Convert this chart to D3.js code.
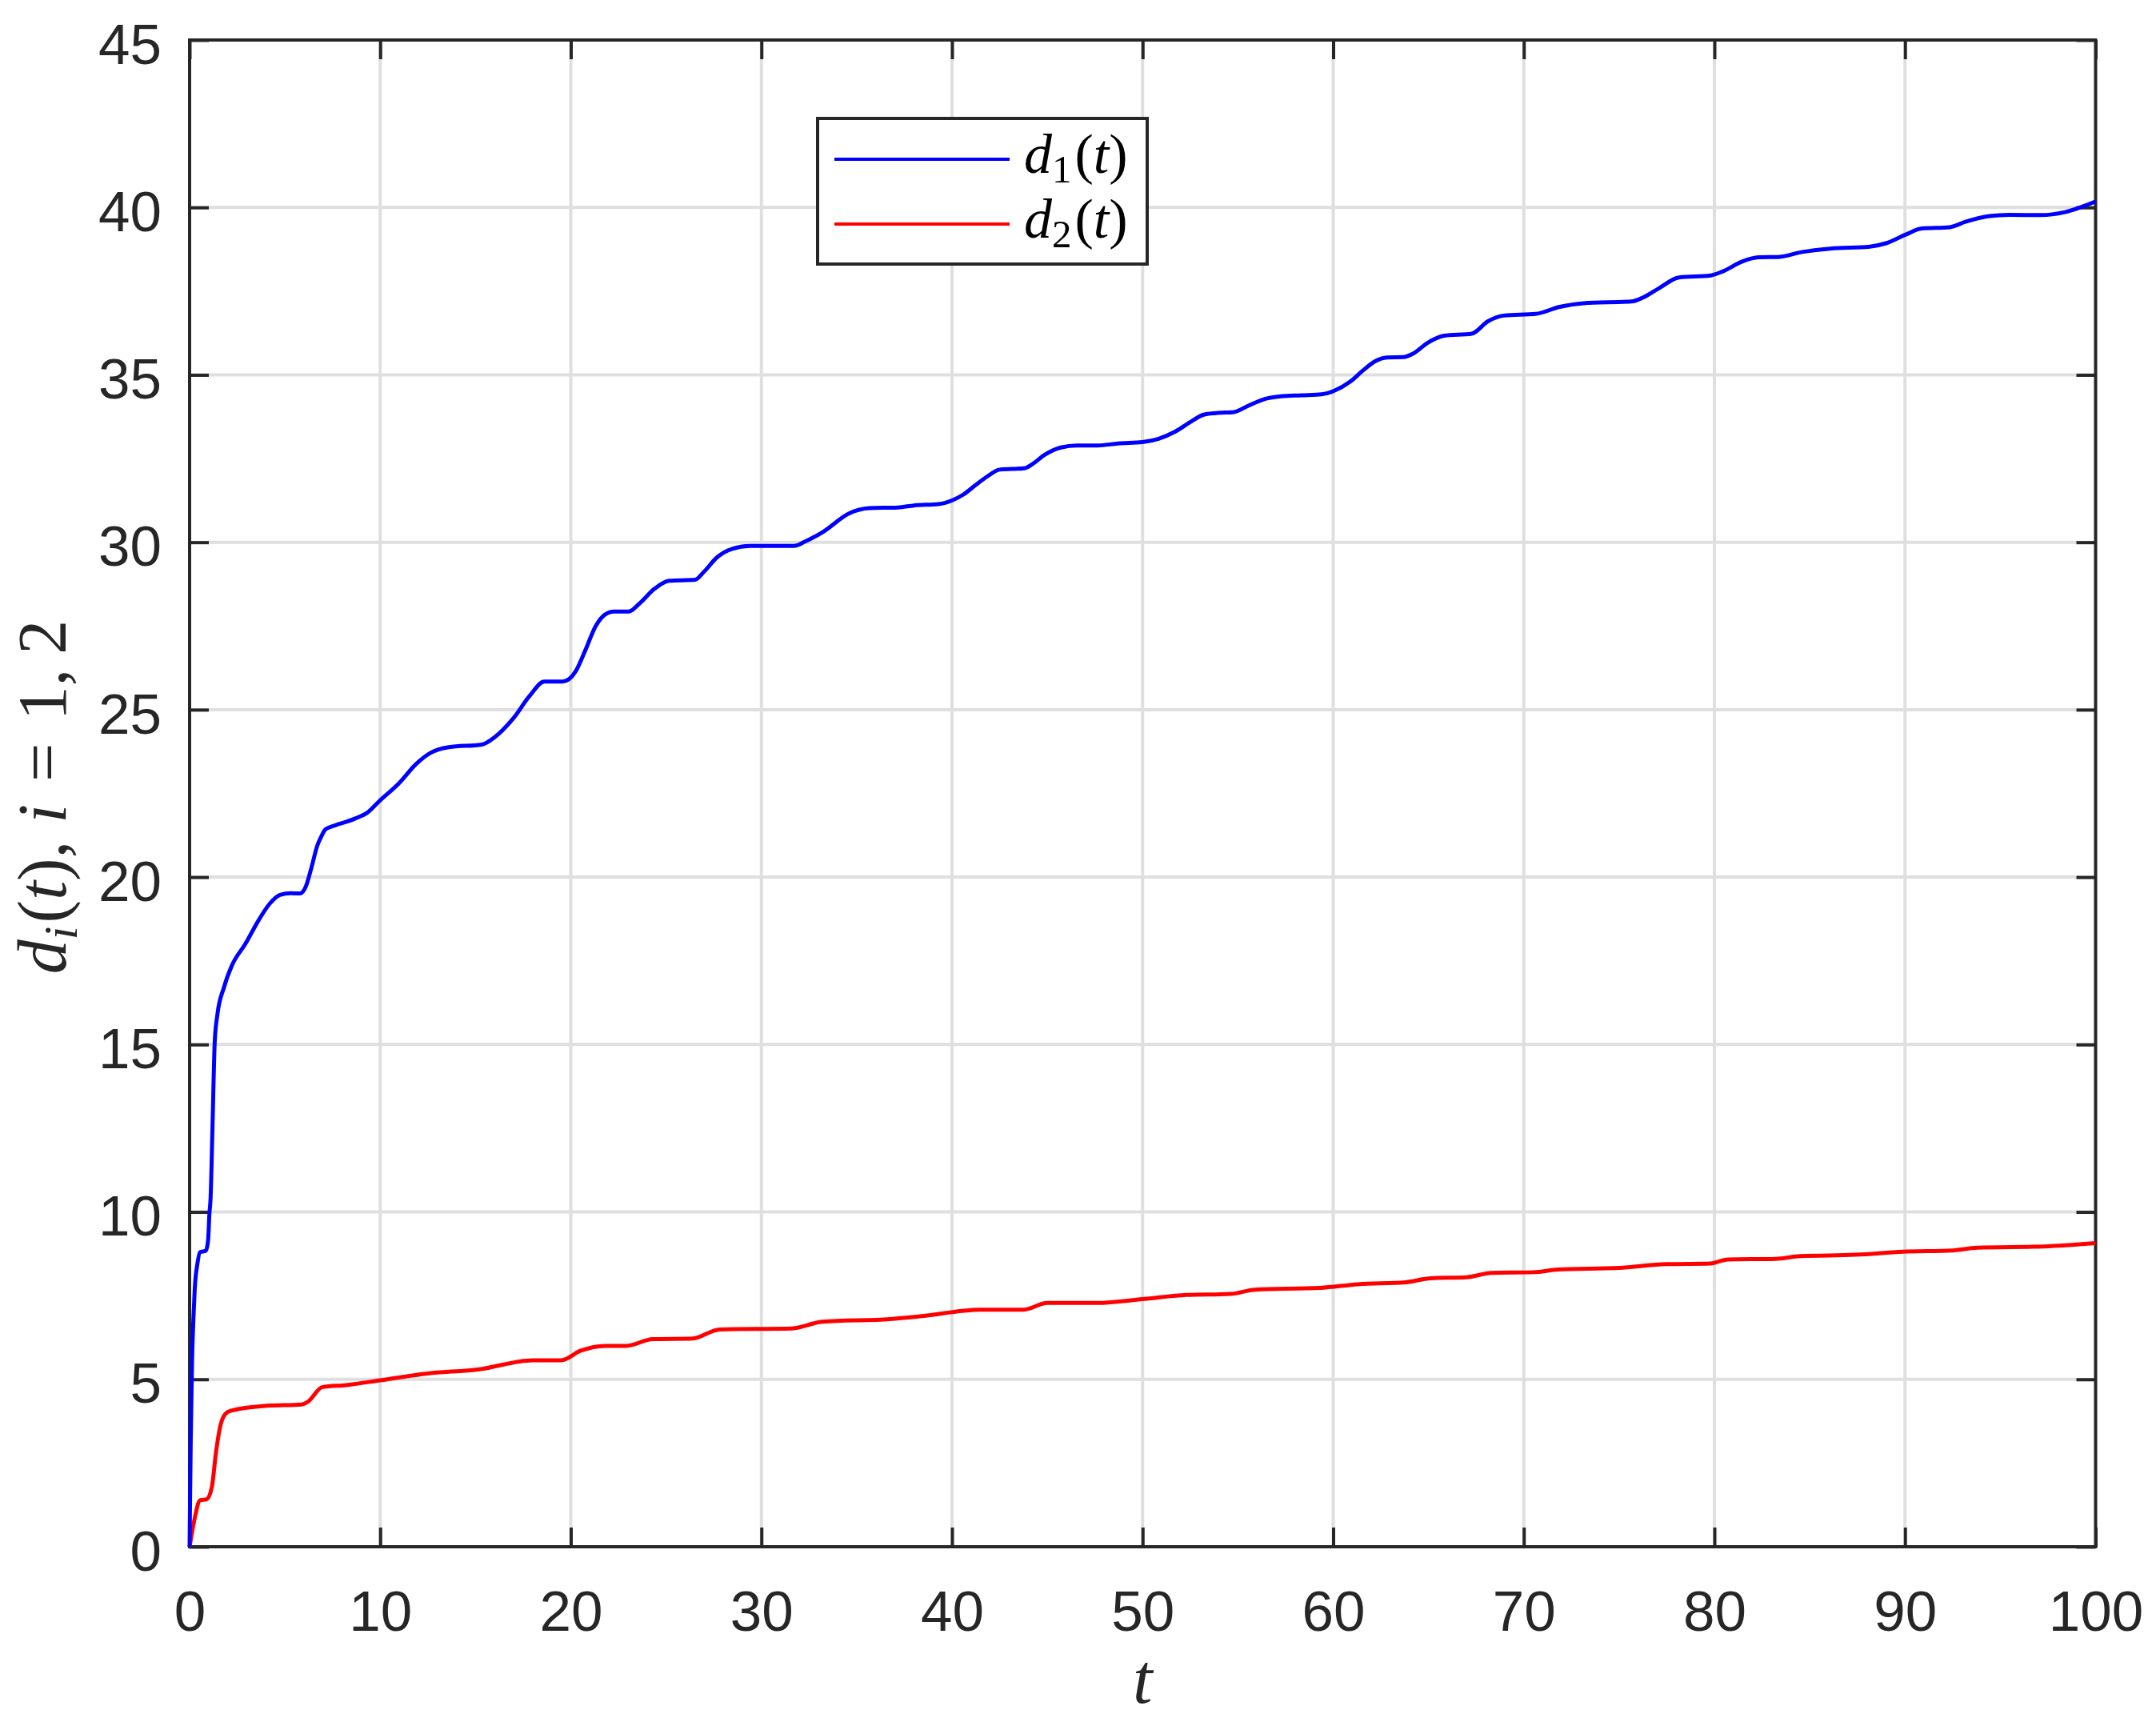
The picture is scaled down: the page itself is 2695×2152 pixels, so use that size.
<!DOCTYPE html>
<html>
<head>
<meta charset="utf-8">
<script src="https://cdn.jsdelivr.net/npm/d3@7"></script>
<style>
  html, body { margin: 0; padding: 0; background: #fff; }
  svg { display: block; }
</style>
</head>
<body>
<script>
// ---------------- data ----------------
const xTicks = [0, 10, 20, 30, 40, 50, 60, 70, 80, 90, 100];
const yTicks = [0, 5, 10, 15, 20, 25, 30, 35, 40, 45];

const seriesNames = ["d1(t)", "d2(t)"];

const t1 = [0,0.02,0.06,0.13,0.2,0.27,0.41,0.55,0.85,0.97,1.04,1.1,1.2,1.32,1.46,1.8,2.22,2.92,3.62,4.18,4.74,5.3,5.8,6.1,6.4,6.7,6.9,7.12,7.5,7.82,8.69,9.36,9.94,11.0,11.87,12.64,13.6,15.34,16.01,16.97,17.84,18.61,19.58,20.25,20.73,21.31,21.79,22.27,23.04,23.62,24.39,25.16,26.51,26.99,27.67,28.44,29.4,31.71,32.29,33.26,34.59,35.66,37.16,38.01,39.29,40.04,40.58,41.22,41.86,42.5,43.79,44.21,44.86,45.71,46.57,47.64,48.71,49.99,50.84,51.7,52.56,53.2,53.84,54.8,55.55,56.41,57.26,58.33,59.4,60.04,60.9,61.54,62.18,62.82,63.68,64.21,64.96,65.82,67.27,68.12,68.96,70.63,71.88,73.13,75.64,76.26,77.1,78.14,79.81,80.44,81.48,82.32,83.36,84.61,86.08,88.16,89.0,90.04,90.88,92.34,93.17,94.43,95.47,97.14,98.39,100];
const d1 = [0,1.2,3.2,5.6,6.8,7.7,8.45,8.8,8.84,9.15,9.95,10.4,12.5,15.1,15.9,16.7,17.36,18.0,18.71,19.19,19.47,19.52,19.51,19.72,20.3,20.94,21.2,21.42,21.52,21.58,21.75,21.94,22.26,22.81,23.37,23.71,23.88,23.96,24.18,24.73,25.41,25.84,25.84,26.14,26.73,27.5,27.84,27.93,27.93,28.18,28.61,28.85,28.88,29.12,29.55,29.8,29.89,29.89,30.02,30.32,30.86,31.02,31.04,31.1,31.14,31.26,31.42,31.7,31.97,32.17,32.21,32.33,32.61,32.83,32.89,32.89,32.95,32.99,33.09,33.3,33.61,33.81,33.86,33.89,34.08,34.28,34.36,34.39,34.42,34.52,34.8,35.12,35.4,35.52,35.53,35.64,35.96,36.17,36.23,36.6,36.77,36.82,37.03,37.14,37.19,37.31,37.59,37.91,37.97,38.09,38.39,38.51,38.52,38.67,38.77,38.83,38.93,39.19,39.37,39.41,39.57,39.74,39.78,39.77,39.86,40.18];

const t2 = [0,0.25,0.55,0.9,1.17,1.38,1.6,1.88,2.15,4.03,5.87,6.2,6.97,8.23,10,12.4,15.2,18.0,19.5,20.5,21.8,22.9,24.3,26.4,27.8,31.6,33.2,36.75,38.3,41.5,43.75,45.0,47.6,50.1,52.3,54.6,55.9,59.3,61.3,63.8,65.1,67.0,68.3,70.5,71.8,75.0,77.5,79.8,80.7,83.2,84.5,87.4,89.9,92.5,93.8,97.3,100];
const d2 = [0,0.8,1.39,1.42,1.79,2.8,3.58,3.97,4.06,4.21,4.25,4.33,4.77,4.83,4.97,5.17,5.3,5.57,5.57,5.85,6.0,6.0,6.2,6.22,6.49,6.52,6.72,6.8,6.88,7.08,7.08,7.28,7.28,7.4,7.52,7.55,7.68,7.73,7.84,7.9,8.02,8.05,8.18,8.2,8.28,8.33,8.44,8.46,8.58,8.6,8.68,8.72,8.81,8.85,8.93,8.97,9.07];

// ---------------- layout ----------------
const W = 2695, H = 2152;
const L = 237, R = 2619.5, T = 50, B = 1933;
const axisColor = "#262626";
const gridColor = "#dfdfdf";
const tickFont = "'Liberation Sans', Arial, Helvetica, sans-serif";
const mathFont = "'Liberation Serif', 'Times New Roman', serif";

const svg = d3.select("body").append("svg")
  .attr("width", W).attr("height", H)
  .attr("viewBox", `0 0 ${W} ${H}`);

svg.append("rect").attr("width", W).attr("height", H).attr("fill", "#fff");

const x = d3.scaleLinear().domain([0, 100]).range([L, R]);
const y = d3.scaleLinear().domain([0, 45]).range([B, T]);

// grid
const grid = svg.append("g");
grid.selectAll("line.gx").data(xTicks.slice(1, -1)).join("line")
  .attr("x1", d => x(d)).attr("x2", d => x(d))
  .attr("y1", T).attr("y2", B)
  .attr("stroke", gridColor).attr("stroke-width", 4);
grid.selectAll("line.gy").data(yTicks.slice(1, -1)).join("line")
  .attr("x1", L).attr("x2", R)
  .attr("y1", d => y(d)).attr("y2", d => y(d))
  .attr("stroke", gridColor).attr("stroke-width", 4);

const tickLen = 24;
function styleAxis(g) {
  g.select(".domain").remove();
  g.selectAll(".tick line").attr("stroke", axisColor).attr("stroke-width", 4);
  g.selectAll(".tick text").attr("fill", axisColor)
    .attr("font-family", tickFont).attr("font-size", 71);
}

svg.append("g").attr("transform", `translate(0,${B})`)
  .call(d3.axisBottom(x).tickValues(xTicks).tickSizeInner(-tickLen).tickSizeOuter(0).tickPadding(55).tickFormat(d3.format("d")))
  .call(styleAxis);

svg.append("g").attr("transform", `translate(0,${T})`)
  .call(d3.axisTop(x).tickValues(xTicks).tickSizeInner(-tickLen).tickSizeOuter(0).tickFormat(""))
  .call(styleAxis);

svg.append("g").attr("transform", `translate(${L},0)`)
  .call(d3.axisLeft(y).tickValues(yTicks).tickSizeInner(-tickLen).tickSizeOuter(0).tickPadding(35).tickFormat(d3.format("d")))
  .call(styleAxis)
  .call(g => g.selectAll(".tick text").attr("dy", "0.41em"));

svg.append("g").attr("transform", `translate(${R},0)`)
  .call(d3.axisRight(y).tickValues(yTicks).tickSizeInner(-tickLen).tickSizeOuter(0).tickFormat(""))
  .call(styleAxis);

// frame
svg.append("rect")
  .attr("x", L).attr("y", T).attr("width", R - L).attr("height", B - T)
  .attr("fill", "none").attr("stroke", axisColor).attr("stroke-width", 4);

// data
svg.append("clipPath").attr("id", "plotclip")
  .append("rect").attr("x", L - 3).attr("y", T - 3).attr("width", R - L + 6).attr("height", B - T + 6);

const line = d3.line().x(d => x(d[0])).y(d => y(d[1])).curve(d3.curveMonotoneX);
const s1 = t1.map((t, i) => [t, d1[i]]);
const s2 = t2.map((t, i) => [t, d2[i]]);

const plot = svg.append("g").attr("clip-path", "url(#plotclip)");
plot.append("path").datum(s2).attr("d", line)
  .attr("fill", "none").attr("stroke", "#ff0000").attr("stroke-width", 5).attr("stroke-linejoin", "round");
plot.append("path").datum(s1).attr("d", line)
  .attr("fill", "none").attr("stroke", "#0000ff").attr("stroke-width", 5).attr("stroke-linejoin", "round");

// legend
const leg = svg.append("g");
leg.append("rect").attr("x", 1022).attr("y", 148).attr("width", 412).attr("height", 182)
  .attr("fill", "#fff").attr("stroke", axisColor).attr("stroke-width", 4);
const legColors = ["#0000ff", "#ff0000"];
const legY = [199, 280];
seriesNames.forEach((name, i) => {
  leg.append("line").attr("x1", 1043).attr("x2", 1262).attr("y1", legY[i]).attr("y2", legY[i])
    .attr("stroke", legColors[i]).attr("stroke-width", 4);
  const tx = leg.append("text").attr("x", 1280).attr("y", legY[i] + 17)
    .attr("font-family", mathFont).attr("font-size", 70).attr("fill", "#000");
  tx.append("tspan").attr("font-style", "italic").text("d");
  tx.append("tspan").attr("font-size", 49).attr("dy", 12).text(name.charAt(1));
  tx.append("tspan").attr("dy", -12).attr("dx", 4).text("(");
  tx.append("tspan").attr("font-style", "italic").text("t");
  tx.append("tspan").text(")");
});

// x label
svg.append("text").attr("x", (L + R) / 2).attr("y", 2128)
  .attr("text-anchor", "middle").attr("font-family", mathFont).attr("font-size", 88)
  .attr("font-style", "italic").attr("fill", axisColor).text("t");

// y label
const yl = svg.append("text")
  .attr("transform", `translate(82,996) rotate(-90)`)
  .attr("text-anchor", "middle").attr("font-family", mathFont).attr("font-size", 86)
  .attr("fill", axisColor);
yl.append("tspan").attr("font-style", "italic").text("d");
yl.append("tspan").attr("font-style", "italic").attr("font-size", 60).attr("dy", 14).text("i");
yl.append("tspan").attr("dy", -14).attr("dx", 4).text("(");
yl.append("tspan").attr("font-style", "italic").text("t");
yl.append("tspan").text("),");
yl.append("tspan").attr("font-style", "italic").attr("dx", 22).text("i");
yl.append("tspan").attr("dx", 28).text("=");
yl.append("tspan").attr("dx", 28).text("1,");
yl.append("tspan").attr("dx", 18).text("2");
</script>
</body>
</html>
